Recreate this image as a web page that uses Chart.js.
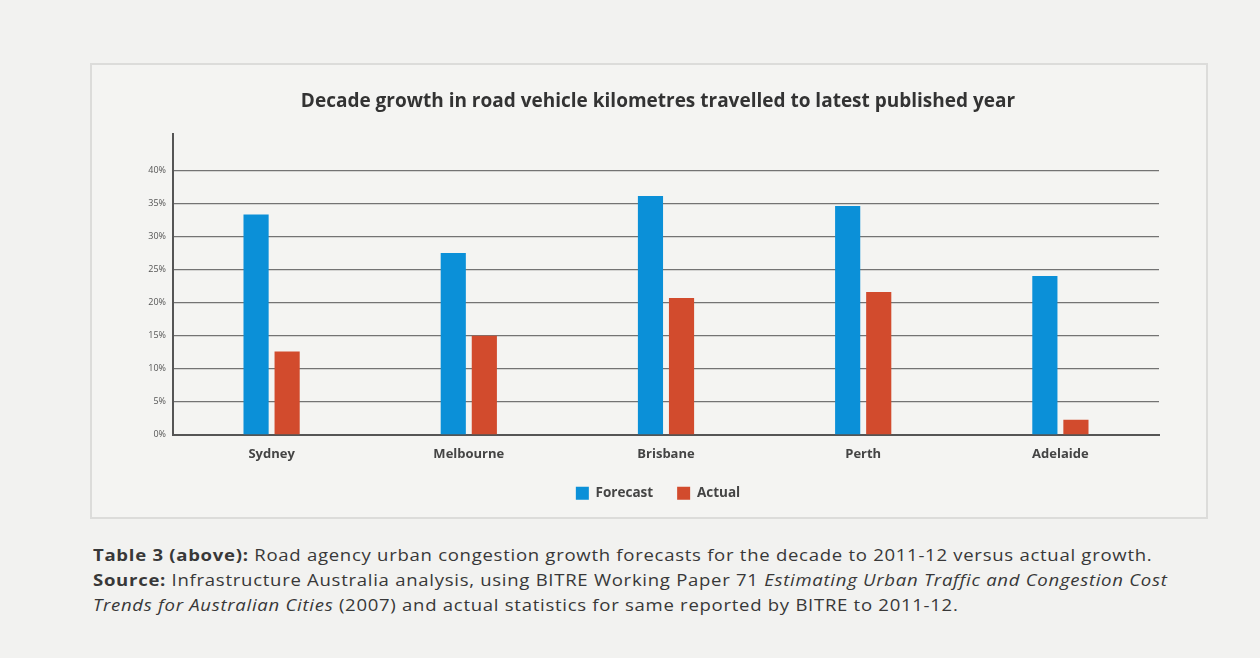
<!DOCTYPE html>
<html>
<head>
<meta charset="utf-8">
<script src="https://cdn.jsdelivr.net/npm/chart.js@4.4.0/dist/chart.umd.min.js"></script>
<style>
  body {
    margin: 0;
    background: #f2f2f0;
    width: 1260px;
    height: 658px;
    overflow: hidden;
    font-family: "Open Sans", Lato, sans-serif;
  }
  #box {
    position: absolute;
    left: 90px;
    top: 63px;
    width: 1114px;
    height: 452px;
    border: 2px solid #dcdcda;
    background: #f4f4f2;
  }
  #caption {
    position: absolute;
    left: 93px;
    top: 543px;
    font-size: 15.5px;
    letter-spacing: 0.6px;
    line-height: 25px;
    color: #383838;
    white-space: nowrap;
    transform: scaleX(1.196);
    transform-origin: left top;
  }
</style>
</head>
<body>
<div id="box"><canvas id="canvas" width="1114" height="452"></canvas></div>
<div id="caption">
  <b>Table 3 (above):</b> Road agency urban congestion growth forecasts for the decade to 2011-12 versus actual growth.<br>
  <b>Source:</b> Infrastructure Australia analysis, using BITRE Working Paper 71 <i>Estimating Urban Traffic and Congestion Cost</i><br>
  <i>Trends for Australian Cities</i> (2007) and actual statistics for same reported by BITRE to 2011-12.
</div>
<script>
// chart data
const cities = ['Sydney', 'Melbourne', 'Brisbane', 'Perth', 'Adelaide'];
const forecast = [33.3, 27.5, 36.1, 34.6, 24.0];
const actual = [12.6, 15.0, 20.7, 21.6, 2.3];
const yTicks = [0, 5, 10, 15, 20, 25, 30, 35, 40];

const ctx = document.getElementById('canvas').getContext('2d');
const chart = new Chart(ctx, {
    type: 'bar',
    data: {
        labels: cities,
        datasets: [
            {
                label: 'Forecast',
                data: forecast,
                backgroundColor: '#0b90d8'
            },
            {
                label: 'Actual',
                data: actual,
                backgroundColor: '#d24b2d'
            }
        ]
    },
    options: {
        responsive: false,
        animation: false,
        categoryPercentage: 0.315,
        barPercentage: 0.81,
        layout: {
            padding: { left: 18, right: 0, top: 0, bottom: 7 }
        },
        plugins: {
            title: {
                display: true,
                text: 'Decade growth in road vehicle kilometres travelled to latest published year',
                color: '#333',
                font: { family: 'Open Sans', size: 19, weight: 'bold' },
                padding: { top: 25, bottom: 21 }
            },
            legend: {
                position: 'bottom',
                labels: {
                    boxWidth: 13,
                    boxHeight: 13,
                    color: '#444',
                    padding: 24,
                    font: { family: 'Open Sans', size: 13.5, weight: 'bold' }
                }
            },
            tooltip: { enabled: false }
        },
        scales: {
            x: {
                grid: { display: false },
                border: { color: '#555', width: 2 },
                ticks: {
                    color: '#444',
                    padding: 4,
                    font: { family: 'Open Sans', size: 13, weight: 'bold' }
                },
                afterFit: (scale) => {
                    scale.height -= 4;
                }
            },
            y: {
                min: 0,
                max: 45.5,
                afterBuildTicks: (scale) => {
                    scale.ticks = yTicks.map(v => ({ value: v }));
                },
                afterFit: (scale) => {
                    scale.width = 63;
                },
                grid: { color: '#737373', lineWidth: 1.3, drawTicks: false },
                border: { color: '#555', width: 2 },
                ticks: {
                    color: '#555',
                    padding: 7,
                    font: { family: 'Open Sans', size: 9 },
                    callback: (v) => v + '%'
                }
            },
            // empty right-hand axis, only reserves the space right of the grid
            yRight: {
                position: 'right',
                grid: { display: false },
                border: { display: false },
                ticks: { display: false },
                afterFit: (scale) => {
                    scale.width = 47;
                }
            }
        }
    }
});
</script>
</body>
</html>
